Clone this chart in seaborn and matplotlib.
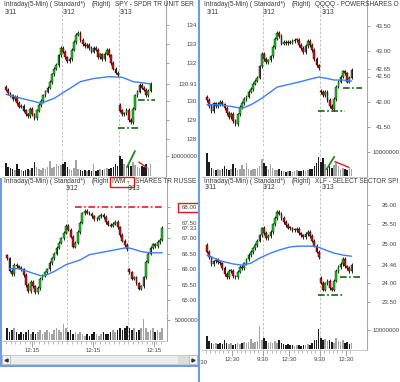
import matplotlib
matplotlib.use("Agg")
import matplotlib.pyplot as plt
from matplotlib import font_manager
from matplotlib.patches import Rectangle
import numpy as np
import pandas as pd
import seaborn as sns

# ---- values (15 minute steps, 3 sessions) ----
bars_per_day = [26, 26, 15]

spy_close = [130.6, 130.4, 130.3, 130.1, 130.2, 129.9, 129.7, 129.75, 129.5, 129.3,
             129.2, 129.6, 129.3, 129.1, 129.5, 129.8, 130.0, 130.3, 130.5, 130.7,
             131.0, 131.4, 131.7, 131.9, 132.4, 132.8,
             132.6, 132.3, 132.1, 132.2, 132.7, 133.1, 133.5, 133.6, 133.2, 133.0,
             132.9, 132.95, 132.8, 132.6, 132.8, 132.7, 132.3, 132.45, 132.2, 132.5,
             132.7, 132.4, 132.0, 131.7, 131.5, 131.35,
             129.5, 129.3, 129.35, 129.55, 129.0, 128.9, 129.6, 130.3, 130.5, 130.85,
             130.7, 130.6, 130.3, 130.55, 130.9]
spy_day_open = [130.75, 132.8, 129.8]
spy_vol = [6.5, 4.5, 4.0, 3.5, 3.0, 6.0, 3.5, 3.0, 2.5, 3.0, 3.5, 3.0, 4.0, 7.0, 4.5, 3.5,
           3.0, 4.0, 3.5, 4.5, 7.5, 4.0, 4.5, 6.0, 5.0, 5.5,
           6.0, 7.0, 4.5, 3.5, 3.0, 4.0, 8.0, 3.5, 3.0, 2.5, 3.0, 2.5, 3.0, 2.5, 6.0, 2.5,
           3.0, 3.5, 3.0, 3.5, 4.0, 3.5, 4.0, 4.5, 6.0, 5.0,
           10.0, 8.5, 6.0, 5.0, 6.5, 5.0, 7.0, 5.5, 4.5, 4.0, 5.0, 4.5, 6.0, 4.0, 6.0]
spy_ma_idx = [0, 6, 12, 16, 22, 28, 34, 40, 47, 53, 58, 66]
spy_ma = [130.35, 130.17, 130.0, 129.88, 130.14, 130.58, 131.02, 131.18, 131.28, 131.25,
          131.02, 130.9]
spy_ticks = [128, 129, 130, 130.91, 132, 133, 134]
spy_tick_labels = ["128", "129", "130", "130.91", "132", "133", "134"]
spy_levels = [(51.1, 60.3, 128.58), (60.3, 68.0, 130.05)]
spy_vol_up = [(55.3, 4.4), (58.9, 12.2)]
spy_vol_down = [(60.7, 6.8), (64.4, 3.9)]

qqq_close = [42.03, 41.92, 41.82, 41.97, 41.92, 41.96, 42.0, 41.95, 41.88, 41.78,
             41.7, 41.76, 41.62, 41.56, 41.75, 41.9, 41.98, 42.05, 42.1, 42.2,
             42.25, 42.36, 42.42, 42.48, 42.7, 42.95,
             42.85, 42.78, 42.82, 42.9, 43.08, 43.25, 43.36, 43.3, 43.15, 43.18,
             43.16, 43.18, 43.17, 43.2, 43.22, 43.22, 43.12, 43.06, 42.99, 43.1,
             43.2, 43.12, 43.02, 42.85, 42.72, 42.67,
             42.19, 42.13, 42.2, 42.03, 41.92, 41.86, 42.05, 42.3, 42.4, 42.5,
             42.6, 42.56, 42.4, 42.48, 42.63]
qqq_day_open = [42.1, 42.95, 42.22]
qqq_vol = [9.5, 6.0, 3.5, 3.0, 2.5, 3.0, 2.5, 3.0, 4.0, 3.0, 2.5, 3.0, 5.0, 3.5, 2.5, 3.0,
           4.5, 3.0, 5.5, 3.0, 2.5, 3.0, 3.0, 3.5, 4.0, 7.0,
           5.5, 4.0, 3.0, 5.0, 3.5, 2.5, 2.5, 3.0, 2.0, 2.0, 1.5, 2.0, 2.0, 1.5, 2.0, 2.5,
           2.0, 2.0, 2.5, 2.0, 2.5, 3.0, 3.0, 4.0, 5.5, 8.0,
           6.0, 7.5, 5.0, 3.5, 4.0, 3.5, 4.5, 5.5, 4.0, 3.0, 3.5, 3.0, 2.5, 3.5, 3.0]
qqq_ma_idx = [0, 6, 12, 16, 20, 24, 27, 32, 36, 42, 49, 51, 55, 58, 62, 66]
qqq_ma = [41.94, 41.94, 41.9, 41.87, 41.94, 42.04, 42.13, 42.29, 42.33, 42.39, 42.47,
          42.49, 42.46, 42.43, 42.43, 42.41]
qqq_ticks = [41.5, 42.0, 42.5, 42.65, 43.0, 43.5]
qqq_tick_labels = ["41.50", "42.00", "42.50", "42.65", "43.00", "43.50"]
qqq_levels = [(50.7, 63.0, 41.81), (62.1, 70.8, 42.27)]
qqq_vol_up = [(54.6, 2.8), (58.1, 8.0)]
qqq_vol_down = [(58.4, 6.0), (64.8, 3.6)]

iwm_close = [66.35, 65.95, 65.85, 66.15, 66.1, 66.05, 66.0, 65.82, 65.5, 65.3,
             65.6, 65.45, 65.27, 65.4, 65.7, 65.8, 65.9, 66.0, 66.2, 66.35,
             66.5, 66.7, 66.85, 67.0, 67.17, 67.4,
             67.27, 67.05, 66.72, 66.85, 67.2, 67.5, 67.8, 67.88, 67.82, 67.78,
             67.7, 67.6, 67.62, 67.7, 67.75, 67.68, 67.52, 67.43, 67.4, 67.47,
             67.52, 67.35, 67.1, 66.92, 66.78, 66.65,
             65.9, 65.7, 65.75, 65.55, 65.38, 65.45, 65.75, 66.25, 66.5, 66.7,
             66.8, 66.75, 66.88, 66.95, 67.33]
iwm_day_open = [66.45, 67.4, 66.0]
iwm_vol = [3.0, 2.0, 2.5, 3.0, 2.0, 1.5, 2.0, 1.5, 2.0, 2.5, 1.5, 2.0, 1.5, 2.0, 2.5, 1.5,
           2.0, 2.5, 2.0, 1.5, 2.5, 3.0, 2.5, 2.0, 4.0, 3.0,
           2.0, 2.5, 1.5, 2.0, 1.5, 2.0, 1.5, 1.0, 1.5, 1.0, 1.5, 2.0, 1.5, 1.0, 1.5, 2.0,
           1.5, 1.5, 2.0, 2.5, 2.0, 2.5, 3.0, 2.5, 3.0, 3.5,
           3.0, 2.5, 3.0, 2.0, 2.5, 3.0, 5.2, 3.0, 2.0, 2.5, 3.0, 2.0, 2.5, 2.0, 3.0]
iwm_ma_idx = [1, 5, 10, 14, 16, 20, 25, 31, 35, 42, 47, 51, 54, 57, 61, 66]
iwm_ma = [66.02, 66.02, 65.9, 65.8, 65.8, 65.93, 66.15, 66.3, 66.47, 66.57, 66.64, 66.7,
          66.64, 66.57, 66.53, 66.53]
iwm_ticks = [65.0, 65.5, 66.0, 66.5, 67.0, 67.33, 67.5, 68.0]
iwm_tick_labels = ["65.00", "65.50", "66.00", "66.50", "67.00", "67.33", "67.50", "68.00"]
iwm_levels = [(28.9, 66.3, 68.0)]
iwm_times = [(0, "12:15"), (1, "12:15"), (2, "12:15")]

xlf_close = [24.8, 24.65, 24.47, 24.55, 24.58, 24.53, 24.5, 24.38, 24.22, 24.14,
             24.3, 24.3, 24.16, 24.14, 24.28, 24.4, 24.38, 24.5, 24.6, 24.71,
             24.79, 24.88, 24.97, 25.08, 25.22, 25.4,
             25.28, 25.15, 25.2, 25.3, 25.5, 25.66, 25.82, 25.78, 25.66, 25.56,
             25.48, 25.42, 25.4, 25.36, 25.36, 25.38, 25.27, 25.22, 25.17, 25.25,
             25.3, 25.2, 25.08, 24.95, 24.8, 24.65,
             24.0, 23.82, 23.98, 24.05, 23.85, 23.82, 24.05, 24.3, 24.4, 24.48,
             24.62, 24.42, 24.38, 24.3, 24.46]
xlf_day_open = [24.98, 25.42, 24.12]
xlf_vol = [7.0, 4.0, 3.0, 2.5, 3.0, 2.5, 3.0, 2.5, 5.0, 3.0, 2.5, 3.0, 2.0, 2.5, 3.0, 2.5,
           3.0, 3.5, 3.0, 3.5, 5.5, 3.0, 3.5, 4.0, 12.0, 4.5,
           6.0, 4.0, 3.0, 3.5, 3.0, 4.0, 3.0, 5.0, 3.0, 2.5, 2.0, 2.5, 2.0, 2.0, 1.5, 2.0,
           2.0, 1.5, 2.0, 2.0, 2.5, 2.0, 3.0, 5.0, 4.5, 10.5,
           6.0, 5.0, 5.5, 4.0, 4.5, 3.5, 3.0, 6.0, 4.0, 3.5, 5.0, 3.0, 3.5, 2.5, 3.0]
xlf_ma_idx = [0, 6, 12, 16, 20, 24, 29, 33, 38, 42, 49, 52, 55, 58, 62, 66]
xlf_ma = [24.71, 24.56, 24.48, 24.45, 24.5, 24.63, 24.76, 24.84, 24.92, 24.94, 24.94,
          24.89, 24.82, 24.76, 24.71, 24.68]
xlf_ticks = [23.5, 24.0, 24.46, 25.0, 25.5, 26.0]
xlf_tick_labels = ["23.50", "24.00", "24.46", "25.00", "25.50", "26.00"]
xlf_levels = [(50.7, 62.1, 23.69), (60.7, 70.8, 24.15)]
xlf_times = [(0, "12:30"), (1, "9:30"), (1, "12:30"), (2, "9:30"), (2, "12:30")]

day_names = ["3/11", "3/12", "3/13"]

# ---- styling ----
sns.set_theme(style="white")
installed = {f.name for f in font_manager.fontManager.ttflist}
NARROW = "Liberation Sans Narrow" in installed
plt.rcParams["font.family"] = ["Liberation Sans Narrow" if NARROW else "Liberation Sans", "DejaVu Sans"]
FS = 5.6 if NARROW else 4.7
TICK_FS = 5.0 if NARROW else 4.4
TXT = "#3a3a3a"
UP, DOWN, BLUE = "#19d419", "#e01010", "#3d7df5"
DASH_DOT = (0, (4, 1.5, 1, 1.5))

W, H = 400, 382
fig = plt.figure(figsize=(W / 100, H / 100), dpi=100)
day_start = np.cumsum([0] + bars_per_day[:-1])
n_bars = sum(bars_per_day)
idx = np.arange(n_bars)


def box(x0, y0, x1, y1):
    return fig.add_axes([x0 / W, 1 - y1 / H, (x1 - x0) / W, (y1 - y0) / H])


def span(p0, p1, cal):
    """values shown at pixel rows p0 (top) and p1 (bottom), from two calibration pairs"""
    (ya, va), (yb, vb) = cal
    k = (vb - va) / (yb - ya)
    return va + (p1 - ya) * k, va + (p0 - ya) * k


def right_axis(ax, x1, ticks, labels, label_right):
    ax.yaxis.tick_right()
    ax.set_yticks(ticks, labels)
    pad = (label_right - x1) / 1.389 - 2.2
    ax.tick_params(axis="y", right=True, left=False, length=2.2, width=0.6, color="#909090",
                   labelsize=TICK_FS, labelcolor="#454545", pad=pad)
    for t in ax.get_yticklabels():
        t.set_horizontalalignment("right")
    for side in ["top", "left", "bottom"]:
        ax.spines[side].set_visible(False)
    ax.spines["right"].set_color("#a8a8a8")
    ax.spines["right"].set_linewidth(0.8)


def opens_of(close, day_open):
    s = pd.Series(close, dtype=float)
    o = s.shift(1)
    o.iloc[day_start] = day_open
    return o.to_numpy(), s.to_numpy()


def price_panel(bx, xmap, cal, close, day_open, ma_idx, ma, ticks, labels, label_right):
    x0, y0, x1, y1 = bx
    ax = box(*bx)
    first, step = xmap
    ax.set_xlim((x0 - first) / step, (x1 - first) / step)
    lo_lim, hi_lim = span(y0, y1, cal)
    ax.set_ylim(lo_lim, hi_lim)
    o, c = opens_of(close, day_open)
    lo, hi = np.minimum(o, c), np.maximum(o, c)
    ext = 0.012 * (hi_lim - lo_lim)
    for b in day_start[1:]:
        ax.axvline(b - 0.5, color="#b8b8b8", lw=0.6, ls=(0, (3, 2)), zorder=1)
    ax.vlines(idx, lo - ext, hi + ext, color="black", lw=0.6, zorder=2)
    ax.bar(idx, np.maximum(hi - lo, 0.006 * (hi_lim - lo_lim)), bottom=lo, width=0.8,
           color=np.where(c >= o, UP, DOWN), edgecolor="black", linewidth=0.3, zorder=3)
    sns.lineplot(x=ma_idx, y=ma, ax=ax, color=BLUE, lw=1.0, zorder=4)
    ax.set_xticks([])
    ax.set_xlabel("")
    ax.set_ylabel("")
    right_axis(ax, x1, ticks, labels, label_right)
    ax.patch.set_alpha(0)
    return ax, o, c


def volume_panel(bx, xmap, cal, vol, o, c, tick, tick_label, label_right):
    x0, y0, x1, y1 = bx
    ax = box(*bx)
    first, step = xmap
    df = pd.DataFrame({"i": idx, "vol": np.array(vol) * 1e6,
                       "dir": np.where(c >= o, "up", "down")})
    sns.barplot(data=df, x="i", y="vol", hue="dir", native_scale=True, dodge=False,
                palette={"up": "#a4a4a4", "down": "#1c1c1c"}, width=0.72, errorbar=None,
                legend=False, linewidth=0, ax=ax)
    for b in day_start[1:]:
        ax.axvline(b - 0.5, color="#b8b8b8", lw=0.6, ls=(0, (3, 2)), zorder=0)
    ax.set_xlim((x0 - first) / step, (x1 - first) / step)
    ax.set_ylim(*span(y0, y1, cal))
    ax.set_xlabel("")
    ax.set_ylabel("")
    ax.set_xticks([])
    right_axis(ax, x1, [tick], [tick_label], label_right)
    ax.spines["bottom"].set_visible(True)
    ax.spines["bottom"].set_color("#c0c0c0")
    ax.spines["bottom"].set_linewidth(0.6)
    ax.patch.set_alpha(0)
    return ax


def time_axis(ax, times):
    pos, labs = [], []
    for d, t in times:
        hh, mm = map(int, t.split(":"))
        pos.append(day_start[d] - 0.5 + (hh * 60 + mm - 570) / 15)
        labs.append(t)
    ax.set_xticks(pos, labs)
    ax.set_xticks(np.arange(-0.5, n_bars, 2), minor=True)
    ax.tick_params(axis="x", which="major", bottom=True, length=4, width=0.6, color="#909090",
                   labelsize=TICK_FS, labelcolor="#454545", pad=1.5)
    ax.tick_params(axis="x", which="minor", bottom=True, length=2.2, width=0.5, color="#a0a0a0")


def levels(ax, lines, color):
    for a, b, v in lines:
        ax.plot([a, b], [v, v], color=color, lw=1.2, ls=DASH_DOT, zorder=5)


def trend(ax, pts, color, lw):
    ax.plot([p[0] for p in pts], [p[1] * 1e6 for p in pts], color=color, lw=lw, zorder=5)


# ---- top left: SPY ----
ax, o, c = price_panel((2, 0, 165.5, 146.5), (6, 2.19), ((25, 134), (139, 128)), spy_close,
                       spy_day_open, spy_ma_idx, spy_ma, spy_ticks, spy_tick_labels, 197)
levels(ax, spy_levels, "#0b6b0b")
vax = volume_panel((2, 148, 165.5, 176.5), (6, 2.19), ((176, 0), (155.5, 1e7)), spy_vol, o, c,
                   1e7, "10000000", 198)
trend(vax, spy_vol_up, "#1a8a1a", 1.3)
trend(vax, spy_vol_down, "#e81818", 1.0)

# ---- top right: QQQQ ----
ax, o, c = price_panel((202, 0, 366.5, 146.5), (207, 2.19), ((26, 43.5), (127, 41.5)), qqq_close,
                       qqq_day_open, qqq_ma_idx, qqq_ma, qqq_ticks, qqq_tick_labels, 391)
levels(ax, qqq_levels, "#0b6b0b")
vax = volume_panel((202, 147.5, 366.5, 176.5), (207, 2.19), ((176, 0), (152, 1e7)), qqq_vol, o, c,
                   1e7, "10000000", 400)
trend(vax, qqq_vol_up, "#1a8a1a", 1.3)
trend(vax, qqq_vol_down, "#e81818", 1.0)

# ---- bottom left: IWM ----
ax, o, c = price_panel((2, 179, 166.5, 312.5), (7.2, 2.35), ((207, 68), (300.5, 65)), iwm_close,
                       iwm_day_open, iwm_ma_idx, iwm_ma, iwm_ticks, iwm_tick_labels, 197)
levels(ax, iwm_levels, "#e02020")
vax = volume_panel((2, 313.5, 166.5, 340.5), (7.2, 2.35), ((340, 0), (320, 5e6)), iwm_vol, o, c,
                   5e6, "5000000", 198)
time_axis(vax, iwm_times)

# ---- bottom right: XLF ----
ax, o, c = price_panel((202, 179, 366.5, 320.5), (207, 2.19), ((205, 26), (302, 23.5)), xlf_close,
                       xlf_day_open, xlf_ma_idx, xlf_ma, xlf_ticks, xlf_tick_labels, 397)
levels(ax, xlf_levels, "#0b6b0b")
vax = volume_panel((202, 321.5, 366.5, 349.5), (207, 2.19), ((349, 0), (330, 1e7)), xlf_vol, o, c,
                   1e7, "10000000", 400)
time_axis(vax, xlf_times)

# ---- frame, titles, window chrome (pixel coordinates) ----
left = box(0, 0, 200, H)
left.set_xlim(0, 200)
right = box(200, 0, 400, H)
right.set_xlim(200, 400)
for a in (left, right):
    a.set_ylim(H, 0)
    a.axis("off")
    a.patch.set_alpha(0)


def put(a, x, y, s, **kw):
    a.text(x, y, s, fontsize=FS, color=TXT, va="center", clip_on=True, **kw)


for a, xo, yt, yd, sub, name, dates in [
        (left, 0, 4.5, 12, "(Right)", "SPY - SPDR TR UNIT SER", [5, 63, 120]),
        (right, 200, 4.5, 12, "(Right)", "QQQQ - POWERSHARES O", [207, 263, 322]),
        (left, 0, 181.5, 188.5, "(Right", "SHARES TR RUSSE", [None, 66, 128]),
        (right, 200, 181.5, 187.5, "(Right)", "XLF - SELECT SECTOR SPI", [205, 263, 322])]:
    put(a, xo + 4, yt, "Intraday(5-Min) ( Standard*)")
    put(a, xo + 92, yt, sub)
    put(a, xo + (135 if sub == "(Right" else 115), yt, name)
    for dx, dn in zip(dates, day_names):
        if dx is not None:
            put(a, dx, yd, dn)

put(left, 112.5, 181.5, "IWM -")
left.add_patch(Rectangle((110, 177), 23.5, 9.5, fill=False, ec="#e01818", lw=1.0))
left.add_patch(Rectangle((177.5, 203), 21, 8.5, fill=False, ec="#e01818", lw=1.0))
right.text(201.5, 362.5, "9:30", fontsize=TICK_FS, color="#454545", va="center", ha="center",
           clip_on=True)

# scroll bar and blue window border
left.add_patch(Rectangle((2, 355), 195, 9, fc="#ededed", ec="#c4c4c4", lw=0.6))
left.add_patch(Rectangle((2, 355), 8, 9, fc="#f4f4f4", ec="#b8b8b8", lw=0.6))
left.add_patch(Rectangle((189, 355), 8, 9, fc="#f4f4f4", ec="#b8b8b8", lw=0.6))
left.add_patch(Rectangle((178, 355.5), 11, 8, fc="#dcdcdc", ec="none"))
left.plot([5.8], [359.5], marker="<", ms=2.2, color="#333333")
left.plot([193.2], [359.5], marker=">", ms=2.2, color="#333333")
left.plot([199, 199], [0, H], color="#6d9be6", lw=1.6, solid_capstyle="butt")
left.plot([0.8, 0.8], [178, 366], color="#6d9be6", lw=1.4, solid_capstyle="butt")
left.plot([0, 200], [365.6, 365.6], color="#6d9be6", lw=1.4)

fig.savefig("out.png", dpi=100)
